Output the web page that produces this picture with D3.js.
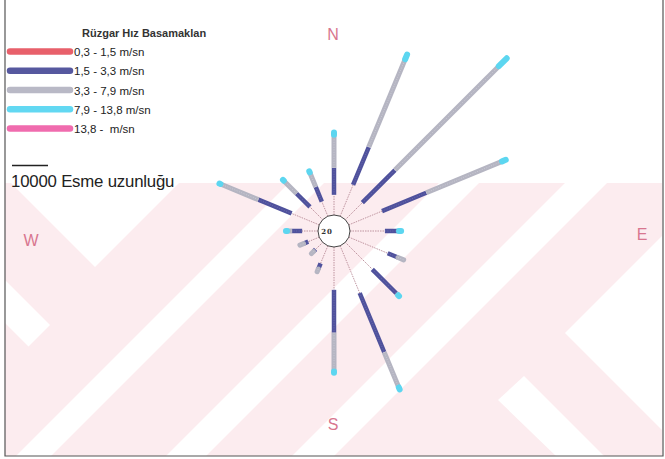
<!DOCTYPE html>
<html><head><meta charset="utf-8">
<script src="https://cdn.jsdelivr.net/npm/d3@7"></script>
<style>body{margin:0;background:#fff} svg{display:block} text{white-space:pre}</style>
</head><body><svg id="c" width="665" height="459"></svg>
<script>
// ---- data ----
const directions = ["N","NNE","NE","ENE","E","ESE","SE","SSE","S","SSW","SW","WSW","W","WNW","NW","NNW"];
const classLabels = ["0,3 - 1,5 m/sn","1,5 - 3,3 m/sn","3,3 - 7,9 m/sn","7,9 - 13,8 m/sn","13,8 -  m/sn"];
// wind run (esme) per direction for each speed class
const class1 = [5600, 9400, 6700,10000, 9700,11700,10600,14200,11900, 5300, 2800, 3300, 4400, 8300, 5000, 4400];
const class2 = [7500,11400,12800,13300, 3600, 3100, 9400,17800,11900, 1700,  800, 1400, 2800,10000, 5300, 4400];
const class3 = [9200,26400,40800,22800,  300, 1700,  800,10600,10800,  800,  800, 1100, 1400,11400, 5000, 4400];
const class4 = [ 600, 1400, 3100, 1100,  600,    0,  300,  600,  300,    0,    0,    0,  300,  300,  300,  300];
const class5 = [   0,    0,    0,    0,    0,    0,    0,    0,    0,    0,    0,    0,    0,    0,    0,    0];
const calmText = "20";
const scaleBarValue = 10000;
const scaleBarLabel = "10000 Esme uzunluğu";
const legendTitle = "Rüzgar Hız Basamaklan";
const compassLabels = ["N","E","S","W"];

// ---- drawing ----
const svg = d3.select("#c");
const W = 665, H = 459;
const cx = 334, cy = 231, r0 = 16;
const rScale = d3.scaleLinear().domain([0, 10000]).range([0, 36]);
const angle = d3.scalePoint().domain(directions).range([0, 360 - 22.5]);

const legendColors = ["#e8606b", "#56589f", "#b9b9c6", "#62d8f2", "#f06cae"];
const rayColors    = ["#b88a96", "#4f519c", "#b5b5c2", "#5cd6f0", "#f06cae"];
const rayWidths    = [0.9, 4.5, 5, 6, 6];

// background + watermark
svg.append("rect").attr("width", W).attr("height", H).attr("fill", "#fff");
const bgTop = 183, bgBot = 456, bgL = 5, bgR = 662;
const defs = svg.append("defs");
defs.append("clipPath").attr("id", "bgclip").append("rect")
  .attr("x", bgL).attr("y", bgTop).attr("width", bgR - bgL).attr("height", bgBot - bgTop);
const wm = svg.append("g").attr("clip-path", "url(#bgclip)");
wm.append("rect").attr("x", bgL).attr("y", bgTop).attr("width", bgR - bgL).attr("height", bgBot - bgTop)
  .attr("fill", "#fcecef");
const band = (c1, c2) => [[c1 - bgTop, bgTop], [c2 - bgTop, bgTop], [c2 - 470, 470], [c1 - 470, 470]];
const whiteShapes = [
  band(472, 507), band(622, 662), band(748, 790),
  [[11, 183], [179, 183], [95, 267]],
  [[0, 275], [50, 325], [28.5, 346.5], [0, 318]],
  [[565, 333], [664, 234], [664, 432]],
  [[498, 400], [524, 376], [606, 458], [558, 458]]
];
wm.selectAll("path.w").data(whiteShapes).join("path")
  .attr("d", d => "M" + d.map(p => p.join(",")).join("L") + "Z")
  .attr("fill", "#fff");

// frame
svg.append("path").attr("d", `M${bgL},0V${bgBot}H${bgR + 1}V0`)
  .attr("fill", "none").attr("stroke", "#555").attr("stroke-width", 1.2);

// rays
const classes = [class1, class2, class3, class4, class5];
const rays = svg.append("g");
directions.forEach((d, i) => {
  const a = angle(d) * Math.PI / 180;
  let cum = 0;
  const vals = classes.map(c => c[i]);
  let last = -1;
  vals.forEach((v, k) => { if (v > 0) last = k; });
  vals.forEach((v, k) => {
    if (v <= 0) return;
    const ra = r0 + rScale(cum), rb = r0 + rScale(cum + v);
    cum += v;
    const ln = rays.append("line")
      .attr("x1", cx + ra * Math.sin(a)).attr("y1", cy - ra * Math.cos(a))
      .attr("x2", cx + rb * Math.sin(a)).attr("y2", cy - rb * Math.cos(a))
      .attr("stroke", rayColors[k]).attr("stroke-width", rayWidths[k])
      .attr("stroke-linecap", k === last && k > 0 ? "round" : "butt");
    if (k === 0) ln.attr("stroke-dasharray", "1.5,1");
    if (k === 1 || k === 2) {
      rays.append("line")
        .attr("x1", cx + ra * Math.sin(a)).attr("y1", cy - ra * Math.cos(a))
        .attr("x2", cx + rb * Math.sin(a)).attr("y2", cy - rb * Math.cos(a))
        .attr("stroke", k === 1 ? "#7073b4" : "#d0d0da").attr("stroke-width", 1)
        .attr("stroke-dasharray", "1,1.5").attr("opacity", 0.8);
    }
  });
});

// center circle
svg.append("circle").attr("cx", cx).attr("cy", cy).attr("r", r0)
  .attr("fill", "#fff").attr("stroke", "#444").attr("stroke-width", 1);
svg.append("text").attr("x", cx - 7).attr("y", cy + 2.5)
  .attr("text-anchor", "middle").attr("font-family", "DejaVu Serif").attr("font-weight", "bold")
  .attr("font-size", 7).attr("letter-spacing", 1).attr("fill", "#333").text(calmText);

// compass labels
const compassPos = { N: [333, 40], E: [642, 240], S: [333, 430], W: [31, 246] };
svg.append("g").selectAll("text").data(compassLabels).join("text")
  .attr("x", d => compassPos[d][0]).attr("y", d => compassPos[d][1])
  .attr("text-anchor", "middle").attr("font-family", "Liberation Sans, Arial, sans-serif")
  .attr("font-size", 16).attr("fill", "#d8768f").text(d => d);

// legend
const lg = svg.append("g");
lg.append("text").attr("x", 82).attr("y", 37)
  .attr("font-family", "Liberation Sans, Arial, sans-serif").attr("font-size", 11)
  .attr("font-weight", "bold").attr("fill", "#333").text(legendTitle);
const ly = d3.scaleLinear().domain([0, 4]).range([51.5, 128.5]);
classLabels.forEach((lab, k) => {
  lg.append("line").attr("x1", 10).attr("x2", 70).attr("y1", ly(k)).attr("y2", ly(k))
    .attr("stroke", legendColors[k]).attr("stroke-width", 6.5).attr("stroke-linecap", "round");
  lg.append("text").attr("x", 74).attr("y", ly(k) + 4.5)
    .attr("font-family", "Liberation Sans, Arial, sans-serif").attr("font-size", 11.5)
    .attr("fill", "#222").text(lab);
});
lg.append("line").attr("x1", 12).attr("x2", 12 + rScale(scaleBarValue)).attr("y1", 165.5).attr("y2", 165.5)
  .attr("stroke", "#222").attr("stroke-width", 1.5);
lg.append("text").attr("x", 11).attr("y", 187)
  .attr("font-family", "Liberation Sans, Arial, sans-serif").attr("font-size", 16.8)
  .attr("letter-spacing", -0.2).attr("fill", "#222").text(scaleBarLabel);
</script></body></html>
